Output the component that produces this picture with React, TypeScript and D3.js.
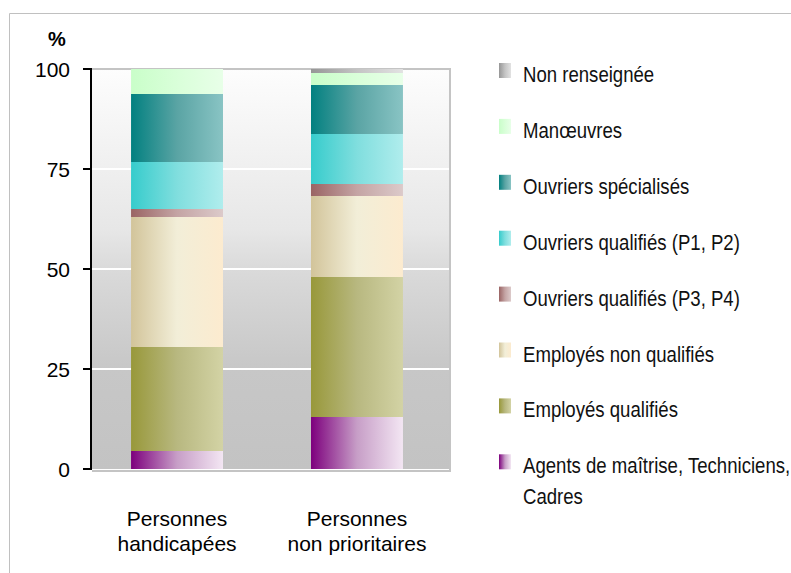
import React, { useEffect, useRef } from 'react'
import * as d3 from 'd3'

// categories (x axis), two lines each
const categories = ['Personnes handicapées', 'Personnes non prioritaires']
const categoryLines = [['Personnes', 'handicapées'], ['Personnes', 'non prioritaires']]

// series, bottom of the stack first
const seriesNames = [
  'Agents de maîtrise, Techniciens, Cadres',
  'Employés qualifiés',
  'Employés non qualifiés',
  'Ouvriers qualifiés (P3, P4)',
  'Ouvriers qualifiés (P1, P2)',
  'Ouvriers spécialisés',
  'Manœuvres',
  'Non renseignée'
]

// % values per series: [handicapées, non prioritaires]
const agents = [4.5, 13]
const employesQualifies = [26, 35]
const employesNonQualifies = [32.5, 20.25]
const ouvriersP3P4 = [2, 3]
const ouvriersP1P2 = [11.75, 12.5]
const ouvriersSpecialises = [17, 12.25]
const manoeuvres = [6.25, 3]
const nonRenseignee = [0, 1]

const yTicks = [0, 25, 50, 75, 100]

// gradient stops per series (left -> right)
const gradients: string[][] = [
  ['#7d007d', '#c79ec7', '#f3e6f3'],
  ['#98983a', '#b8b880', '#d3d3a5'],
  ['#d2c49a', '#f2eed8', '#fcebcf'],
  ['#9a6464', '#c4a4a4', '#dccaca'],
  ['#36cccc', '#80dede', '#b0eded'],
  ['#028080', '#5aa4a4', '#89c4c4'],
  ['#c9fec9', '#d9ffd9', '#e8ffe8'],
  ['#969696', '#c4c4c4', '#e2e2e2']
]

export default function App() {
  const svgRef = useRef<SVGSVGElement>(null)

  useEffect(() => {
    if (!svgRef.current) return
    const svg = d3.select(svgRef.current)
    svg.selectAll('*').remove()

    const values = [agents, employesQualifies, employesNonQualifies, ouvriersP3P4,
      ouvriersP1P2, ouvriersSpecialises, manoeuvres, nonRenseignee]

    const rows = categories.map((c, ci) => {
      const r: any = { cat: c }
      seriesNames.forEach((s, si) => { r[s] = values[si][ci] })
      return r
    })
    const stacked = d3.stack<any>().keys(seriesNames)(rows)

    const plotLeft = 92
    const plotRight = 450
    const y = d3.scaleLinear().domain([0, 100]).range([469, 69])
    const x = d3.scaleBand().domain(categories).range([92, 442])
      .paddingInner(0.489).paddingOuter(0.217)

    const font = "'Liberation Sans', Arial, sans-serif"

    const defs = svg.append('defs')
    gradients.forEach((stops, i) => {
      const g = defs.append('linearGradient').attr('id', 'g' + i)
        .attr('x1', 0).attr('x2', 1).attr('y1', 0).attr('y2', 0)
      stops.forEach((c, k) => g.append('stop')
        .attr('offset', k / (stops.length - 1)).attr('stop-color', c))
    })
    const bg = defs.append('linearGradient').attr('id', 'bg')
      .attr('x1', 0).attr('x2', 0).attr('y1', 0).attr('y2', 1)
    ;[[0, '#fdfdfd'], [0.4, '#e7e7e7'], [0.5, '#dadada'], [0.75, '#c7c7c7'], [1, '#c3c3c3']]
      .forEach(([o, c]) => bg.append('stop').attr('offset', o as number).attr('stop-color', c as string))

    // outer frame
    svg.append('path').attr('d', 'M9.5,573 V13.5 H791')
      .attr('fill', 'none').attr('stroke', '#c0c0c0').attr('stroke-width', 1)

    // plot area
    svg.append('rect').attr('x', plotLeft).attr('y', y(100))
      .attr('width', plotRight - plotLeft).attr('height', y(0) - y(100))
      .attr('fill', 'url(#bg)')
    svg.append('path')
      .attr('d', `M${plotLeft},${y(100)} H${plotRight} V${y(0) + 2} H${plotLeft}`)
      .attr('fill', 'none').attr('stroke', '#c4c4c4').attr('stroke-width', 2)

    // gridlines
    svg.append('g').selectAll('line').data(yTicks.filter(t => t > 0 && t < 100)).join('line')
      .attr('x1', plotLeft).attr('x2', plotRight - 1)
      .attr('y1', d => y(d)).attr('y2', d => y(d))
      .attr('stroke', '#ffffff').attr('stroke-width', 2)

    // bars
    stacked.forEach((layer, si) => {
      svg.append('g').selectAll('rect').data(layer).join('rect')
        .attr('x', d => x(d.data.cat)!)
        .attr('width', x.bandwidth())
        .attr('y', d => y(d[1]))
        .attr('height', d => y(d[0]) - y(d[1]))
        .attr('fill', `url(#g${si})`)
    })

    // y axis
    svg.append('line').attr('x1', 91).attr('x2', 91).attr('y1', y(100) - 1).attr('y2', y(0) + 1)
      .attr('stroke', '#000').attr('stroke-width', 2)
    const ty = svg.append('g').selectAll('g').data(yTicks).join('g')
    ty.append('line').attr('x1', 83).attr('x2', 91)
      .attr('y1', d => y(d)).attr('y2', d => y(d))
      .attr('stroke', '#000').attr('stroke-width', 2)
    ty.append('text').attr('x', 70).attr('y', d => y(d) + 7.5)
      .attr('text-anchor', 'end').attr('font-size', 21).attr('fill', '#000')
      .attr('font-family', font)
      .text(d => d)

    svg.append('text').attr('x', 57).attr('y', 46).attr('text-anchor', 'middle')
      .attr('font-size', 20).attr('font-weight', 'bold')
      .attr('font-family', font).text('%')

    // category labels
    categories.forEach((c, ci) => {
      categoryLines[ci].forEach((ln, li) => {
        svg.append('text').attr('x', x(c)! + x.bandwidth() / 2).attr('y', 526 + li * 25)
          .attr('text-anchor', 'middle').attr('font-size', 21)
          .attr('font-family', font).text(ln)
      })
    })

    // legend, top item = last series; text is condensed horizontally
    const legendItems = seriesNames.map((s, i) => ({ s, i })).reverse()
    const legendLines: Record<string, string[]> = {
      'Agents de maîtrise, Techniciens, Cadres': ['Agents de maîtrise, Techniciens,', 'Cadres']
    }
    const squeeze = 0.845
    const lg = svg.append('g').selectAll('g').data(legendItems).join('g')
      .attr('transform', (_, k) => `translate(0,${82 + k * 55.9})`)
    lg.append('rect').attr('x', 499).attr('y', -19).attr('width', 12).attr('height', 15)
      .attr('fill', d => `url(#g${d.i})`)
    lg.each(function (d) {
      const lines = legendLines[d.s] || [d.s]
      const tg = d3.select(this).append('g').attr('transform', `translate(523,0) scale(${squeeze},1)`)
      lines.forEach((ln, li) => {
        tg.append('text').attr('x', 0).attr('y', li * 31)
          .attr('font-size', 22).attr('fill', '#111')
          .attr('font-family', font)
          .text(ln)
      })
    })
  }, [])

  return (
    <svg ref={svgRef} width={791} height={573}
      style={{ position: 'absolute', left: 0, top: 0, background: '#fff' }} />
  )
}
